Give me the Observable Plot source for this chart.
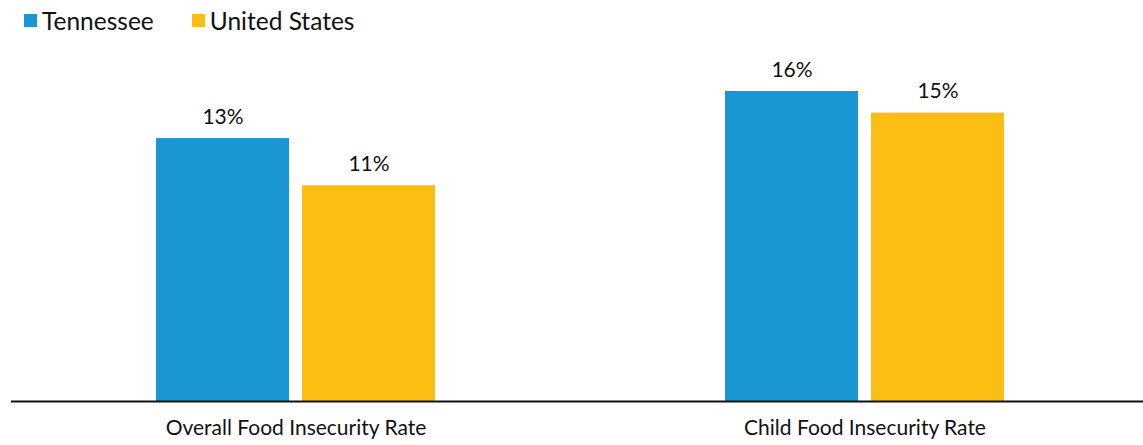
<!DOCTYPE html>
<html>
<head>
<meta charset="utf-8">
<script src="https://cdn.jsdelivr.net/npm/d3@7"></script>
<script src="https://cdn.jsdelivr.net/npm/@observablehq/plot@0.6"></script>
<style>
  body { margin: 0; background: #fff; font-family: Lato, sans-serif; }
  #legend { height: 40px; display: flex; align-items: center; padding-left: 24px; font-size: 24.5px; color: #111; }
  .item { display: flex; align-items: center; margin-right: 38px; }
  .sw { width: 13px; height: 13px; margin-right: 5px; }
  svg { display: block; }
</style>
</head>
<body>
<div id="legend"></div>
<div id="chart"></div>
<script>
const categories = ["Overall Food Insecurity Rate", "Child Food Insecurity Rate"];
const series = ["Tennessee", "United States"];
const colors = ["#1996D3", "#FDBE14"];
const tennessee = [13.4, 15.8];
const unitedStates = [11.0, 14.7];
const labels = {"Tennessee": ["13%", "16%"], "United States": ["11%", "15%"]};

const data = [];
categories.forEach((c, i) => {
  data.push({category: c, series: "Tennessee", value: tennessee[i], label: labels["Tennessee"][i]});
  data.push({category: c, series: "United States", value: unitedStates[i], label: labels["United States"][i]});
});

const legend = document.getElementById("legend");
series.forEach((s, i) => {
  const it = document.createElement("div");
  it.className = "item";
  it.innerHTML = `<span class="sw" style="background:${colors[i]}"></span><span>${s}</span>`;
  legend.appendChild(it);
});

const chart = Plot.plot({
  width: 1143,
  height: 405,
  marginLeft: 10,
  marginRight: 0,
  marginTop: 0,
  marginBottom: 44,
  style: {fontFamily: "Lato, sans-serif", fontSize: "21px", color: "#111"},
  fx: {domain: categories, padding: 0, range: [10, 1149], label: null, tickSize: 0, tickPadding: 19, axis: "bottom"},
  x: {domain: series, paddingInner: 0.088, paddingOuter: 0.981, axis: null},
  y: {domain: [0, 18.4], axis: null},
  color: {domain: series, range: colors},
  marks: [
    Plot.barY(data, {fx: "category", x: "series", y: "value", fill: "series"}),
    Plot.text(data, {fx: "category", x: "series", y: "value", text: "label", lineAnchor: "bottom", dy: -15, fill: "#111", fontSize: 21}),
    Plot.ruleY([0], {stroke: "#111", strokeWidth: 2})
  ]
});
document.getElementById("chart").appendChild(chart);
</script>
</body>
</html>
